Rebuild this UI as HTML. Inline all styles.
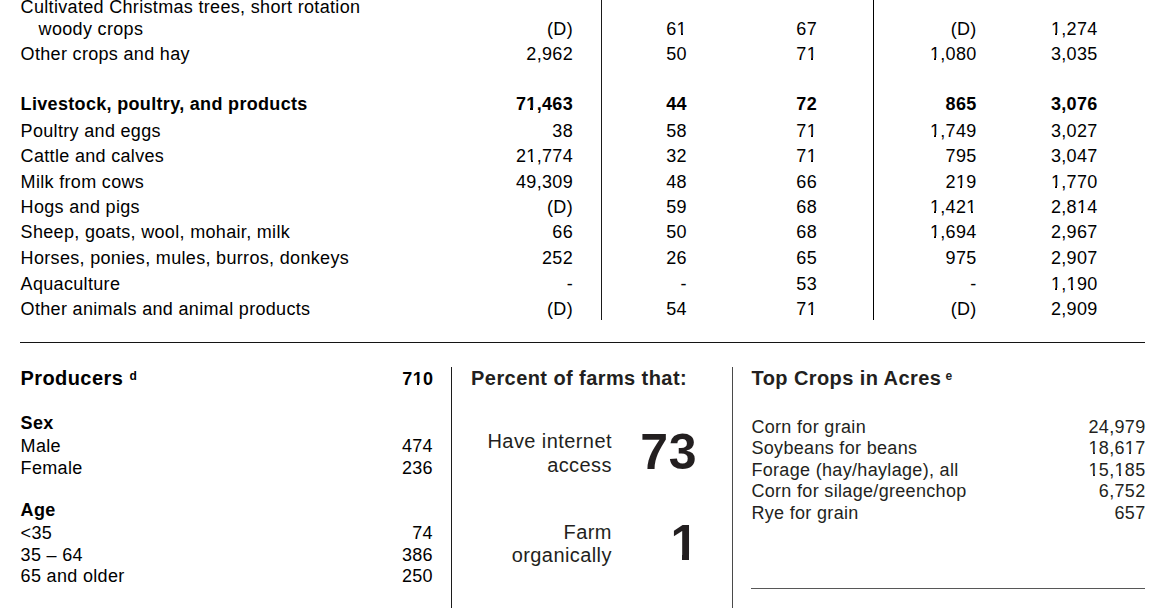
<!DOCTYPE html>
<html><head><meta charset="utf-8"><title>Census of Agriculture county profile</title>
<style>
html,body{margin:0;padding:0;background:#fff;}
body{width:1158px;height:608px;position:relative;overflow:hidden;font-family:"Liberation Sans",Arial,sans-serif;color:#000;}
.t{position:absolute;white-space:pre;line-height:normal;letter-spacing:0.018em;}
.ln{position:absolute;}
.sup{font-size:12px;font-weight:bold;position:relative;top:-5px;letter-spacing:0;}
</style></head><body>
<div class="ln" style="left:601px;top:0px;width:1px;height:320px;background:#1a1a1a"></div><div class="ln" style="left:873px;top:0px;width:1px;height:320px;background:#000"></div><div class="ln" style="left:20px;top:342px;width:1125px;height:1px;background:#141414"></div><div class="ln" style="left:451px;top:367px;width:1px;height:241px;background:#1c1c1c"></div><div class="ln" style="left:732px;top:367px;width:1px;height:241px;background:#4a4a4a"></div><div class="ln" style="left:751px;top:588px;width:394px;height:1px;background:#575757"></div>
<div class="t" style="top:-3px;font-size:18px;left:20.6px;">Cultivated Christmas trees, short rotation</div>
<div class="t" style="top:19px;font-size:18px;left:38.6px;">woody crops</div>
<div class="t" style="top:19px;font-size:18px;right:585.3px;text-align:right;margin-right:-0.018em;">(D)</div>
<div class="t" style="top:19px;font-size:18px;right:471.4px;text-align:right;margin-right:-0.018em;">61</div>
<div class="t" style="top:19px;font-size:18px;right:341.3px;text-align:right;margin-right:-0.018em;">67</div>
<div class="t" style="top:19px;font-size:18px;right:181.7px;text-align:right;margin-right:-0.018em;">(D)</div>
<div class="t" style="top:19px;font-size:18px;right:60.7px;text-align:right;margin-right:-0.018em;">1,274</div>
<div class="t" style="top:44px;font-size:18px;left:20.6px;">Other crops and hay</div>
<div class="t" style="top:44px;font-size:18px;right:585.3px;text-align:right;margin-right:-0.018em;">2,962</div>
<div class="t" style="top:44px;font-size:18px;right:471.4px;text-align:right;margin-right:-0.018em;">50</div>
<div class="t" style="top:44px;font-size:18px;right:341.3px;text-align:right;margin-right:-0.018em;">71</div>
<div class="t" style="top:44px;font-size:18px;right:181.7px;text-align:right;margin-right:-0.018em;">1,080</div>
<div class="t" style="top:44px;font-size:18px;right:60.7px;text-align:right;margin-right:-0.018em;">3,035</div>
<div class="t" style="top:94px;font-size:18px;font-weight:bold;left:20.6px;">Livestock, poultry, and products</div>
<div class="t" style="top:94px;font-size:18px;font-weight:bold;right:585.3px;text-align:right;margin-right:-0.018em;">71,463</div>
<div class="t" style="top:94px;font-size:18px;font-weight:bold;right:471.4px;text-align:right;margin-right:-0.018em;">44</div>
<div class="t" style="top:94px;font-size:18px;font-weight:bold;right:341.3px;text-align:right;margin-right:-0.018em;">72</div>
<div class="t" style="top:94px;font-size:18px;font-weight:bold;right:181.7px;text-align:right;margin-right:-0.018em;">865</div>
<div class="t" style="top:94px;font-size:18px;font-weight:bold;right:60.7px;text-align:right;margin-right:-0.018em;">3,076</div>
<div class="t" style="top:121px;font-size:18px;left:20.6px;">Poultry and eggs</div>
<div class="t" style="top:121px;font-size:18px;right:585.3px;text-align:right;margin-right:-0.018em;">38</div>
<div class="t" style="top:121px;font-size:18px;right:471.4px;text-align:right;margin-right:-0.018em;">58</div>
<div class="t" style="top:121px;font-size:18px;right:341.3px;text-align:right;margin-right:-0.018em;">71</div>
<div class="t" style="top:121px;font-size:18px;right:181.7px;text-align:right;margin-right:-0.018em;">1,749</div>
<div class="t" style="top:121px;font-size:18px;right:60.7px;text-align:right;margin-right:-0.018em;">3,027</div>
<div class="t" style="top:146px;font-size:18px;left:20.6px;">Cattle and calves</div>
<div class="t" style="top:146px;font-size:18px;right:585.3px;text-align:right;margin-right:-0.018em;">21,774</div>
<div class="t" style="top:146px;font-size:18px;right:471.4px;text-align:right;margin-right:-0.018em;">32</div>
<div class="t" style="top:146px;font-size:18px;right:341.3px;text-align:right;margin-right:-0.018em;">71</div>
<div class="t" style="top:146px;font-size:18px;right:181.7px;text-align:right;margin-right:-0.018em;">795</div>
<div class="t" style="top:146px;font-size:18px;right:60.7px;text-align:right;margin-right:-0.018em;">3,047</div>
<div class="t" style="top:172px;font-size:18px;left:20.6px;">Milk from cows</div>
<div class="t" style="top:172px;font-size:18px;right:585.3px;text-align:right;margin-right:-0.018em;">49,309</div>
<div class="t" style="top:172px;font-size:18px;right:471.4px;text-align:right;margin-right:-0.018em;">48</div>
<div class="t" style="top:172px;font-size:18px;right:341.3px;text-align:right;margin-right:-0.018em;">66</div>
<div class="t" style="top:172px;font-size:18px;right:181.7px;text-align:right;margin-right:-0.018em;">219</div>
<div class="t" style="top:172px;font-size:18px;right:60.7px;text-align:right;margin-right:-0.018em;">1,770</div>
<div class="t" style="top:197px;font-size:18px;left:20.6px;">Hogs and pigs</div>
<div class="t" style="top:197px;font-size:18px;right:585.3px;text-align:right;margin-right:-0.018em;">(D)</div>
<div class="t" style="top:197px;font-size:18px;right:471.4px;text-align:right;margin-right:-0.018em;">59</div>
<div class="t" style="top:197px;font-size:18px;right:341.3px;text-align:right;margin-right:-0.018em;">68</div>
<div class="t" style="top:197px;font-size:18px;right:181.7px;text-align:right;margin-right:-0.018em;">1,421</div>
<div class="t" style="top:197px;font-size:18px;right:60.7px;text-align:right;margin-right:-0.018em;">2,814</div>
<div class="t" style="top:222px;font-size:18px;left:20.6px;">Sheep, goats, wool, mohair, milk</div>
<div class="t" style="top:222px;font-size:18px;right:585.3px;text-align:right;margin-right:-0.018em;">66</div>
<div class="t" style="top:222px;font-size:18px;right:471.4px;text-align:right;margin-right:-0.018em;">50</div>
<div class="t" style="top:222px;font-size:18px;right:341.3px;text-align:right;margin-right:-0.018em;">68</div>
<div class="t" style="top:222px;font-size:18px;right:181.7px;text-align:right;margin-right:-0.018em;">1,694</div>
<div class="t" style="top:222px;font-size:18px;right:60.7px;text-align:right;margin-right:-0.018em;">2,967</div>
<div class="t" style="top:248px;font-size:18px;left:20.6px;">Horses, ponies, mules, burros, donkeys</div>
<div class="t" style="top:248px;font-size:18px;right:585.3px;text-align:right;margin-right:-0.018em;">252</div>
<div class="t" style="top:248px;font-size:18px;right:471.4px;text-align:right;margin-right:-0.018em;">26</div>
<div class="t" style="top:248px;font-size:18px;right:341.3px;text-align:right;margin-right:-0.018em;">65</div>
<div class="t" style="top:248px;font-size:18px;right:181.7px;text-align:right;margin-right:-0.018em;">975</div>
<div class="t" style="top:248px;font-size:18px;right:60.7px;text-align:right;margin-right:-0.018em;">2,907</div>
<div class="t" style="top:274px;font-size:18px;left:20.6px;">Aquaculture</div>
<div class="t" style="top:274px;font-size:18px;right:585.3px;text-align:right;margin-right:-0.018em;">-</div>
<div class="t" style="top:274px;font-size:18px;right:471.4px;text-align:right;margin-right:-0.018em;">-</div>
<div class="t" style="top:274px;font-size:18px;right:341.3px;text-align:right;margin-right:-0.018em;">53</div>
<div class="t" style="top:274px;font-size:18px;right:181.7px;text-align:right;margin-right:-0.018em;">-</div>
<div class="t" style="top:274px;font-size:18px;right:60.7px;text-align:right;margin-right:-0.018em;">1,190</div>
<div class="t" style="top:299px;font-size:18px;left:20.6px;">Other animals and animal products</div>
<div class="t" style="top:299px;font-size:18px;right:585.3px;text-align:right;margin-right:-0.018em;">(D)</div>
<div class="t" style="top:299px;font-size:18px;right:471.4px;text-align:right;margin-right:-0.018em;">54</div>
<div class="t" style="top:299px;font-size:18px;right:341.3px;text-align:right;margin-right:-0.018em;">71</div>
<div class="t" style="top:299px;font-size:18px;right:181.7px;text-align:right;margin-right:-0.018em;">(D)</div>
<div class="t" style="top:299px;font-size:18px;right:60.7px;text-align:right;margin-right:-0.018em;">2,909</div>
<div class="t" style="top:367px;font-size:20px;font-weight:bold;letter-spacing:0.021em;left:20.5px;">Producers<span class="sup" style="margin-left:6.3px">d</span></div>
<div class="t" style="top:369px;font-size:18px;font-weight:bold;right:725.0px;text-align:right;margin-right:-0.018em;">710</div>
<div class="t" style="top:413px;font-size:18px;font-weight:bold;left:20.6px;">Sex</div>
<div class="t" style="top:436px;font-size:18px;left:20.6px;">Male</div>
<div class="t" style="top:457.5px;font-size:18px;left:20.6px;">Female</div>
<div class="t" style="top:436px;font-size:18px;right:725.4px;text-align:right;margin-right:-0.018em;">474</div>
<div class="t" style="top:457.5px;font-size:18px;right:725.4px;text-align:right;margin-right:-0.018em;">236</div>
<div class="t" style="top:500px;font-size:18px;font-weight:bold;left:20.6px;">Age</div>
<div class="t" style="top:523px;font-size:18px;left:20.6px;">&lt;35</div>
<div class="t" style="top:544.5px;font-size:18px;left:20.6px;">35 &ndash; 64</div>
<div class="t" style="top:566px;font-size:18px;left:20.6px;">65 and older</div>
<div class="t" style="top:523px;font-size:18px;right:725.4px;text-align:right;margin-right:-0.018em;">74</div>
<div class="t" style="top:544.5px;font-size:18px;right:725.4px;text-align:right;margin-right:-0.018em;">386</div>
<div class="t" style="top:566px;font-size:18px;right:725.4px;text-align:right;margin-right:-0.018em;">250</div>
<div class="t" style="top:367px;font-size:20px;font-weight:bold;color:#231f20;letter-spacing:0.021em;left:471.1px;">Percent of farms that:</div>
<div class="t" style="top:430px;font-size:20px;color:#231f20;letter-spacing:0.021em;right:546.5px;text-align:right;margin-right:-0.021em;">Have internet</div>
<div class="t" style="top:454px;font-size:20px;color:#231f20;letter-spacing:0.021em;right:546.5px;text-align:right;margin-right:-0.021em;">access</div>
<div class="t" style="top:423px;font-size:50px;font-weight:bold;color:#231f20;letter-spacing:0.7px;right:461.4px;text-align:right;margin-right:-0.7px;">73</div>
<div class="t" style="top:520.5px;font-size:20px;color:#231f20;letter-spacing:0.021em;right:546.5px;text-align:right;margin-right:-0.021em;">Farm</div>
<div class="t" style="top:544px;font-size:20px;color:#231f20;letter-spacing:0.021em;right:546.5px;text-align:right;margin-right:-0.021em;">organically</div>
<div class="t" style="top:514px;font-size:50px;font-weight:bold;color:#231f20;letter-spacing:0px;right:459.6px;text-align:right;margin-right:-0px;">1</div>
<div class="ln" style="left:670px;top:554px;width:12px;height:7px;background:#fff"></div>
<div class="ln" style="left:689px;top:554px;width:10px;height:7px;background:#fff"></div>
<div class="t" style="top:367px;font-size:20px;font-weight:bold;color:#231f20;letter-spacing:0.021em;left:751.5px;">Top Crops in Acres<span class="sup" style="margin-left:4.2px">e</span></div>
<div class="t" style="top:417px;font-size:18px;color:#231f20;left:751.4px;">Corn for grain</div>
<div class="t" style="top:417px;font-size:18px;color:#231f20;right:12.8px;text-align:right;margin-right:-0.018em;">24,979</div>
<div class="t" style="top:438px;font-size:18px;color:#231f20;left:751.4px;">Soybeans for beans</div>
<div class="t" style="top:438px;font-size:18px;color:#231f20;right:12.8px;text-align:right;margin-right:-0.018em;">18,617</div>
<div class="t" style="top:460px;font-size:18px;color:#231f20;left:751.4px;">Forage (hay/haylage), all</div>
<div class="t" style="top:460px;font-size:18px;color:#231f20;right:12.8px;text-align:right;margin-right:-0.018em;">15,185</div>
<div class="t" style="top:481px;font-size:18px;color:#231f20;left:751.4px;">Corn for silage/greenchop</div>
<div class="t" style="top:481px;font-size:18px;color:#231f20;right:12.8px;text-align:right;margin-right:-0.018em;">6,752</div>
<div class="t" style="top:503px;font-size:18px;color:#231f20;left:751.4px;">Rye for grain</div>
<div class="t" style="top:503px;font-size:18px;color:#231f20;right:12.8px;text-align:right;margin-right:-0.018em;">657</div>
<div class="ln" style="left:676.95px;top:33px;width:4.01px;height:2px;background:#fff"></div><div class="ln" style="left:682.85px;top:33px;width:3.86px;height:2px;background:#fff"></div><div class="ln" style="left:1051.32px;top:33px;width:4.01px;height:2px;background:#fff"></div><div class="ln" style="left:1057.22px;top:33px;width:3.86px;height:2px;background:#fff"></div><div class="ln" style="left:807.04px;top:58px;width:4.01px;height:2px;background:#fff"></div><div class="ln" style="left:812.94px;top:58px;width:3.86px;height:2px;background:#fff"></div><div class="ln" style="left:930.32px;top:58px;width:4.01px;height:2px;background:#fff"></div><div class="ln" style="left:936.22px;top:58px;width:3.86px;height:2px;background:#fff"></div><div class="ln" style="left:526.48px;top:108px;width:3.92px;height:2px;background:#fff"></div><div class="ln" style="left:533.16px;top:108px;width:3.69px;height:2px;background:#fff"></div><div class="ln" style="left:807.04px;top:135px;width:4.01px;height:2px;background:#fff"></div><div class="ln" style="left:812.94px;top:135px;width:3.86px;height:2px;background:#fff"></div><div class="ln" style="left:930.32px;top:135px;width:4.01px;height:2px;background:#fff"></div><div class="ln" style="left:936.22px;top:135px;width:3.86px;height:2px;background:#fff"></div><div class="ln" style="left:526.71px;top:160px;width:4.01px;height:2px;background:#fff"></div><div class="ln" style="left:532.61px;top:160px;width:3.86px;height:2px;background:#fff"></div><div class="ln" style="left:807.04px;top:160px;width:4.01px;height:2px;background:#fff"></div><div class="ln" style="left:812.94px;top:160px;width:3.86px;height:2px;background:#fff"></div><div class="ln" style="left:956.31px;top:186px;width:4.01px;height:2px;background:#fff"></div><div class="ln" style="left:962.20px;top:186px;width:3.86px;height:2px;background:#fff"></div><div class="ln" style="left:1051.32px;top:186px;width:4.01px;height:2px;background:#fff"></div><div class="ln" style="left:1057.22px;top:186px;width:3.86px;height:2px;background:#fff"></div><div class="ln" style="left:930.32px;top:211px;width:4.01px;height:2px;background:#fff"></div><div class="ln" style="left:936.22px;top:211px;width:3.86px;height:2px;background:#fff"></div><div class="ln" style="left:966.65px;top:211px;width:4.01px;height:2px;background:#fff"></div><div class="ln" style="left:972.55px;top:211px;width:3.86px;height:2px;background:#fff"></div><div class="ln" style="left:1077.31px;top:211px;width:4.01px;height:2px;background:#fff"></div><div class="ln" style="left:1083.20px;top:211px;width:3.86px;height:2px;background:#fff"></div><div class="ln" style="left:930.32px;top:236px;width:4.01px;height:2px;background:#fff"></div><div class="ln" style="left:936.22px;top:236px;width:3.86px;height:2px;background:#fff"></div><div class="ln" style="left:1051.32px;top:288px;width:4.01px;height:2px;background:#fff"></div><div class="ln" style="left:1057.22px;top:288px;width:3.86px;height:2px;background:#fff"></div><div class="ln" style="left:1066.98px;top:288px;width:4.01px;height:2px;background:#fff"></div><div class="ln" style="left:1072.88px;top:288px;width:3.86px;height:2px;background:#fff"></div><div class="ln" style="left:807.04px;top:313px;width:4.01px;height:2px;background:#fff"></div><div class="ln" style="left:812.94px;top:313px;width:3.86px;height:2px;background:#fff"></div><div class="ln" style="left:412.76px;top:383px;width:3.92px;height:2px;background:#fff"></div><div class="ln" style="left:419.45px;top:383px;width:3.69px;height:2px;background:#fff"></div><div class="ln" style="left:1088.89px;top:452px;width:4.01px;height:2px;background:#fff"></div><div class="ln" style="left:1094.78px;top:452px;width:3.86px;height:2px;background:#fff"></div><div class="ln" style="left:1125.21px;top:452px;width:4.01px;height:2px;background:#fff"></div><div class="ln" style="left:1131.11px;top:452px;width:3.86px;height:2px;background:#fff"></div><div class="ln" style="left:1088.89px;top:474px;width:4.01px;height:2px;background:#fff"></div><div class="ln" style="left:1094.78px;top:474px;width:3.86px;height:2px;background:#fff"></div><div class="ln" style="left:1114.87px;top:474px;width:4.01px;height:2px;background:#fff"></div><div class="ln" style="left:1120.77px;top:474px;width:3.86px;height:2px;background:#fff"></div>
</body></html>
